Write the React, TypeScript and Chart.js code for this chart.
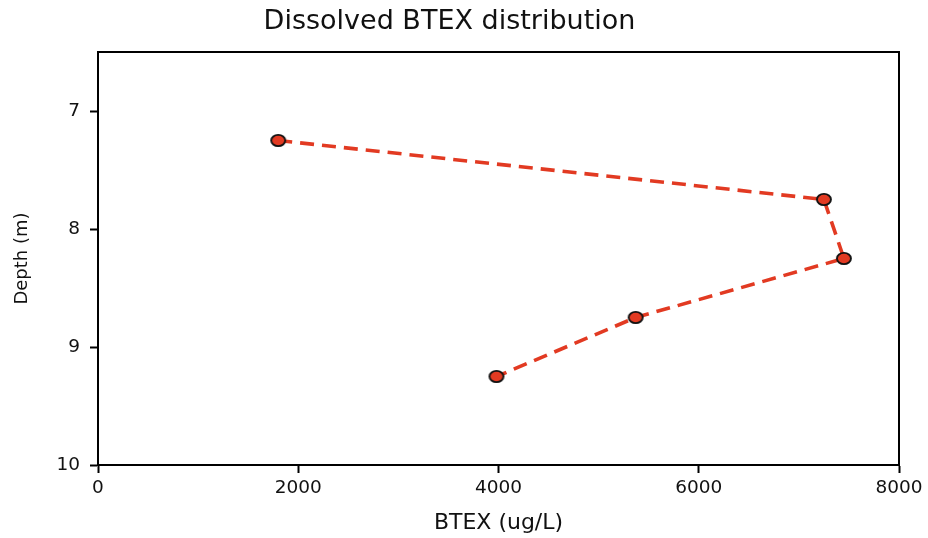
import React, { useEffect, useRef } from "react";
import { Chart, registerables } from "chart.js";

Chart.register(...registerables);

// Sampling depths (m) and dissolved BTEX concentrations (ug/L)
const depths = [7.25, 7.75, 8.25, 8.75, 9.25];
const btex = [1800, 7250, 7450, 5370, 3980];

const xTicks = [0, 2000, 4000, 6000, 8000];
const yTicks = [7, 8, 9, 10];

const titleText = "Dissolved BTEX distribution";
const xTitle = "BTEX (ug/L)";
const yTitle = "Depth (m)";

const FONT = "'DejaVu Sans', Arial, sans-serif";
const LINE_COLOR = "#e23a22";

// Slightly wide oval marker with a dark outline
function makeMarker(): HTMLCanvasElement {
  const c = document.createElement("canvas");
  c.width = 18;
  c.height = 15;
  const g = c.getContext("2d")!;
  g.beginPath();
  g.ellipse(9, 7.5, 7, 5.6, 0, 0, Math.PI * 2);
  g.fillStyle = LINE_COLOR;
  g.fill();
  g.lineWidth = 1.9;
  g.strokeStyle = "#111";
  g.stroke();
  return c;
}

// Closes the plot box with top and right edges (no ticks on those sides)
const frame = {
  id: "frame",
  afterDraw(chart: any) {
    const { ctx, chartArea } = chart;
    ctx.save();
    ctx.strokeStyle = "#000";
    ctx.lineWidth = 2;
    ctx.beginPath();
    ctx.moveTo(chartArea.left, chartArea.top);
    ctx.lineTo(chartArea.right, chartArea.top);
    ctx.lineTo(chartArea.right, chartArea.bottom);
    ctx.stroke();
    ctx.restore();
  },
};

export default function App() {
  const canvasRef = useRef<HTMLCanvasElement | null>(null);

  useEffect(() => {
    if (!canvasRef.current) return;
    const points = depths.map((d, i) => ({ x: btex[i], y: d }));
    const marker = makeMarker();
    const chart = new Chart(canvasRef.current, {
      type: "line",
      data: {
        datasets: [
          {
            data: points,
            borderColor: LINE_COLOR,
            borderWidth: 3.6,
            borderDash: [14, 8],
            pointStyle: marker,
            pointRadius: 7,
            pointHoverRadius: 7,
            tension: 0,
            fill: false,
          },
        ],
      },
      options: {
        animation: false,
        responsive: true,
        maintainAspectRatio: false,
        layout: { padding: { left: 0, right: 29, top: 0, bottom: 0 } },
        plugins: {
          legend: { display: false },
          tooltip: { enabled: false },
          title: {
            display: true,
            text: titleText,
            color: "#111",
            font: { family: FONT, size: 27, weight: "normal", lineHeight: 1.2 },
            padding: { top: 6, bottom: 13.6 },
          },
        },
        scales: {
          x: {
            type: "linear",
            position: "bottom",
            min: 0,
            max: 8000,
            afterBuildTicks: (scale: any) => {
              scale.ticks = xTicks.map((v) => ({ value: v }));
            },
            afterFit: (scale: any) => {
              scale.height = 73;
            },
            grid: {
              display: true,
              drawOnChartArea: false,
              drawTicks: true,
              tickLength: 8,
              tickColor: "#000",
              tickWidth: 2,
            },
            border: { display: true, color: "#000", width: 2 },
            ticks: {
              color: "#111",
              padding: 4,
              maxRotation: 0,
              font: { family: FONT, size: 18.5 },
              callback: (v: any) => String(v),
            },
            title: {
              display: true,
              text: xTitle,
              color: "#111",
              font: { family: FONT, size: 22 },
              padding: { top: 0, bottom: 2 },
            },
          },
          y: {
            type: "linear",
            reverse: true,
            min: 6.5,
            max: 10,
            afterBuildTicks: (scale: any) => {
              scale.ticks = yTicks.map((v) => ({ value: v }));
            },
            afterFit: (scale: any) => {
              scale.width = 98;
            },
            grid: {
              display: true,
              drawOnChartArea: false,
              drawTicks: true,
              tickLength: 8,
              tickColor: "#000",
              tickWidth: 2,
            },
            border: { display: true, color: "#000", width: 2 },
            ticks: {
              color: "#111",
              padding: 10,
              font: { family: FONT, size: 18.5 },
              callback: (v: any) => String(v),
            },
            title: {
              display: true,
              text: yTitle,
              color: "#111",
              font: { family: FONT, size: 18 },
              padding: { top: 12, bottom: 0 },
            },
          },
        },
      },
      plugins: [frame],
    });
    return () => chart.destroy();
  }, []);

  return (
    <div
      style={{
        position: "fixed",
        left: 0,
        top: 0,
        width: 928,
        height: 538,
        background: "#fff",
      }}
    >
      <canvas ref={canvasRef} />
    </div>
  );
}
